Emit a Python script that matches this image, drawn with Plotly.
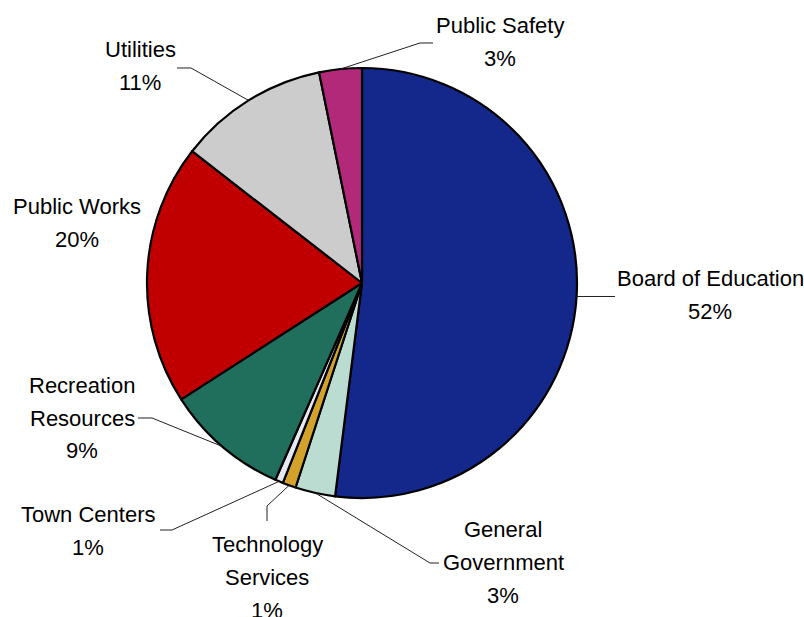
import math
import plotly.graph_objects as go

# Budget share by department (percent), clockwise from 12 o'clock
departments = ["Board of Education", "General Government", "Technology Services",
               "Town Centers", "Recreation Resources", "Public Works",
               "Utilities", "Public Safety"]
shares = [52.0, 3.0, 1.0, 0.6, 9.3, 19.6, 11.3, 3.2]
label_lines = [["Board of Education"], ["General", "Government"], ["Technology", "Services"],
               ["Town Centers"], ["Recreation", "Resources"], ["Public Works"],
               ["Utilities"], ["Public Safety"]]
colors = ["#13288A", "#BBDCD1", "#D3A22A", "#E6E8F2", "#206E5C", "#C00000",
          "#CCCCCC", "#B2297A"]

W, H = 804, 617
CX, CY, R = 362, 283, 215          # pie centre and radius in pixels
FONT = "Liberation Sans, Arial, sans-serif"
FONT_SIZE = 22
LINE_GAP = 33                      # pixel distance between label lines

# Label placement (pixel centre of text block) and leader routing per department
label_pos = {
    "Board of Education": (710, 295),
    "General Government": (503, 562),
    "Technology Services": (267, 577),
    "Town Centers": (88, 531),
    "Recreation Resources": (82, 418),
    "Public Works": (77, 223),
    "Utilities": (140, 66),
    "Public Safety": (500, 42),
}
leader_route = {
    "Board of Education": [(615, None)],
    "General Government": [(430, 563), (439, 563)],
    "Technology Services": [(267, 506), (267, 521)],
    "Town Centers": [(172, 530), (160, 530)],
    "Recreation Resources": [(152, 418), (138, 418)],
    "Utilities": [(191, 68), (177, 68)],
    "Public Safety": [(420, 43), (433, 43)],
}


def px(x):
    return x / W


def py(y):
    return 1 - y / H


fig = go.Figure(go.Pie(
    labels=departments,
    values=shares,
    sort=False,
    direction="clockwise",
    rotation=0,
    marker=dict(colors=colors, line=dict(color="black", width=2.2)),
    textinfo="none",
    hoverinfo="label+percent",
    domain=dict(x=[px(CX - R), px(CX + R)], y=[py(CY + R), py(CY - R)]),
    showlegend=False,
))

total = sum(shares)
annotations = []
shapes = []
cum = 0.0
for name, val, lines in zip(departments, shares, label_lines):
    mid = (cum + val / 2) / total * 2 * math.pi
    cum += val
    ex = CX + R * math.sin(mid)
    ey = CY - R * math.cos(mid)
    pct = round(val / total * 100)
    rows = lines + [f"{pct}%"]
    lx, ly = label_pos[name]
    top = ly - LINE_GAP * (len(rows) - 1) / 2
    for i, row in enumerate(rows):
        annotations.append(dict(
            x=px(lx), y=py(top + i * LINE_GAP), xref="paper", yref="paper",
            text=row, showarrow=False,
            xanchor="center", yanchor="middle", align="center",
            font=dict(family=FONT, size=FONT_SIZE, color="black"),
        ))
    if name in leader_route:
        pts = [(ex, ey)]
        for (x, y) in leader_route[name]:
            pts.append((x, ey if y is None else y))
        path = "M " + " L ".join(f"{px(x):.5f},{py(y):.5f}" for x, y in pts)
        shapes.append(dict(type="path", path=path, xref="paper", yref="paper",
                           line=dict(color="#222222", width=1)))

fig.update_layout(
    width=W, height=H,
    margin=dict(l=0, r=0, t=0, b=0),
    paper_bgcolor="white",
    plot_bgcolor="white",
    annotations=annotations,
    shapes=shapes,
)

fig.write_html("out.html")
